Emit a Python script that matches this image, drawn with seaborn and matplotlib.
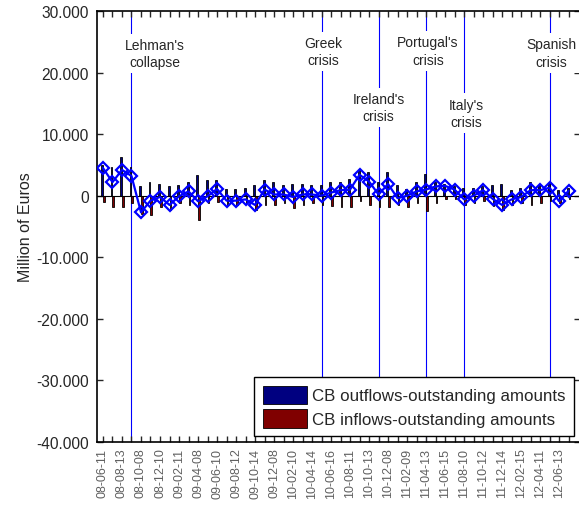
import matplotlib
matplotlib.use("Agg")
import matplotlib.pyplot as plt
import matplotlib.ticker as mticker
import numpy as np
import pandas as pd
import seaborn as sns

# ---------------- data (millions of euros) ----------------
tick_labels = ["08-06-11", "08-08-13", "08-10-08", "08-12-10", "09-02-11", "09-04-08",
               "09-06-10", "09-08-12", "09-10-14", "09-12-08", "10-02-10", "10-04-14",
               "10-06-16", "10-08-11", "10-10-13", "10-12-08", "11-02-09", "11-04-13",
               "11-06-15", "11-08-10", "11-10-12", "11-12-14", "12-02-15", "12-04-11",
               "12-06-13"]

outflows = [5000, 4600, 6300, 4700, 1500, 2300, 1900, 1500, 1700, 2200,
            3400, 2500, 2500, 1100, 1100, 1200, 1700, 2500, 2200, 1800,
            1900, 1900, 1800, 1800, 2200, 2200, 2700, 4200, 3800, 2300,
            3800, 1800, 1100, 2200, 3600, 2300, 1900, 1500, 1200, 1200,
            1500, 1800, 1900, 900, 1200, 2200, 1800, 2000, 900, 1200]

inflows = [-1100, -1800, -1800, -1200, -3000, -3100, -1800, -2400, -1200, -1500,
           -3900, -1200, -1100, -1500, -1500, -1200, -2300, -1500, -1500, -1200,
           -2000, -1500, -1200, -1500, -1600, -1800, -1800, -800, -1500, -1800,
           -1800, -1500, -1800, -1200, -2500, -1200, -600, -600, -1500, -1200,
           -800, -1600, -2400, -1500, -1200, -1500, -1200, -900, -1200, -500]

net = [4500, 2200, 4200, 3200, -2700, -800, -200, -1500, -100, 700,
       -900, -100, 1100, -800, -800, -600, -1500, 1000, 200, 200,
       -200, 200, 200, 0, 500, 900, 1000, 3400, 2300, 200,
       1900, -400, 0, 700, 1000, 1500, 1600, 1000, -600, 0,
       900, -500, -1500, -600, -200, 900, 900, 1300, -900, 800]

series_names = ["CB outflows-outstanding amounts", "CB inflows-outstanding amounts"]
series_colors = ["#000080", "#800000"]

events = ["Lehman's\ncollapse", "Greek\ncrisis", "Ireland's\ncrisis",
          "Portugal's\ncrisis", "Italy's\ncrisis", "Spanish\ncrisis"]
event_pos = [3, 23, 29, 34, 38, 47]
event_text_x = [5.5, 23.2, 29.0, 34.2, 38.2, 47.2]
event_text_y = [23100, 23400, 14300, 23500, 13400, 23200]

# ---------------- figure ----------------
sns.set_style("ticks")
plt.rcParams["font.family"] = ["Liberation Sans", "DejaVu Sans"]

n = len(net)
period = np.arange(n)
df = pd.DataFrame({
    "period": np.concatenate([period, period]),
    "value": outflows + inflows,
    "series": [series_names[0]] * n + [series_names[1]] * n,
})

fig = plt.figure(figsize=(5.79, 5.06), dpi=100)
ax = fig.add_axes([97 / 579, 1 - 443 / 506, (580 - 97) / 579, (443 - 12) / 506])

for xp in event_pos:
    ax.axvline(xp, color="#0000ff", lw=0.8, zorder=0.5)

sns.barplot(data=df, x="period", y="value", hue="series", hue_order=series_names,
            palette=series_colors, saturation=1, width=0.4, dodge=True,
            edgecolor="black", linewidth=0.6, ax=ax, errorbar=None)
ax.axhline(0, color="black", lw=0.8, zorder=1.5)

sns.lineplot(x=period, y=net, color="blue", lw=1.6, marker="D", ms=6.0,
             mfc="none", mec="blue", mew=1.6, ax=ax, legend=False, zorder=3)

for t, tx, ty in zip(events, event_text_x, event_text_y):
    ax.text(tx, ty, t, ha="center", va="center", fontsize=10, linespacing=1.3,
            zorder=4, bbox=dict(facecolor="white", edgecolor="none", pad=3))

ax.set_xlim(-0.63, 50.2)
ax.set_ylim(-40000, 30000)
ax.set_yticks(np.arange(-40000, 30001, 10000))
ax.yaxis.set_major_formatter(mticker.FuncFormatter(
    lambda v, p: f"{v:,.0f}".replace(",", ".")))
ax.set_xticks(period)
xl = [tick_labels[i // 2] if i % 2 == 0 and i // 2 < len(tick_labels) else "" for i in period]
ax.set_xticklabels(xl, rotation=90, fontsize=9, color="#606060")
ax.tick_params(axis="y", labelsize=11.2, direction="in", length=4, width=1,
               right=True, left=True, pad=6)
ax.tick_params(axis="x", direction="in", length=4, width=1, top=True, bottom=True, pad=4)
ax.set_xlabel("")
ax.set_ylabel("Million of Euros", fontsize=11.5)
ax.yaxis.set_label_coords(-0.132, 0.5)
for s in ax.spines.values():
    s.set_linewidth(1.2)
    s.set_color("black")

handles, labels = ax.get_legend_handles_labels()
leg = ax.legend(handles[:2], labels[:2], loc="lower right", fontsize=12.2,
                frameon=True, fancybox=False, edgecolor="black", framealpha=1,
                handlelength=2.6, handleheight=1.3, handletextpad=0.3,
                labelspacing=0.3, borderpad=0.5, borderaxespad=0.35)
leg.get_frame().set_linewidth(1.0)
leg.set_zorder(5)

fig.savefig("out.png", dpi=100)
